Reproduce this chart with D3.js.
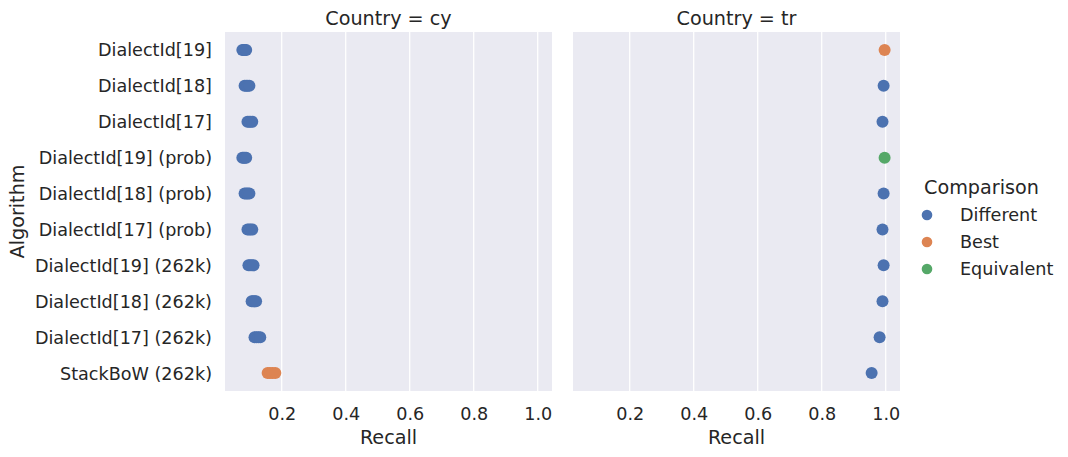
<!DOCTYPE html>
<html><head><meta charset="utf-8">
<script src="https://cdn.jsdelivr.net/npm/d3@7"></script>
<style>body{margin:0;background:#fff}svg{font-family:"DejaVu Sans",sans-serif}</style>
</head><body><svg id="c" width="1068" height="457"></svg>
<script>
const algorithms = ["DialectId[19]","DialectId[18]","DialectId[17]","DialectId[19] (prob)","DialectId[18] (prob)","DialectId[17] (prob)","DialectId[19] (262k)","DialectId[18] (262k)","DialectId[17] (262k)","StackBoW (262k)"];
const countries = ["cy","tr"];
const comparisons = ["Different","Best","Equivalent"];
const colors = ["#4C72B0","#DD8452","#55A868"];
const xTicks = [0.2,0.4,0.6,0.8,1.0];
// cy: several runs per algorithm
const recallCy = [
  [0.077,0.081,0.085,0.089],
  [0.084,0.089,0.094,0.099],
  [0.093,0.098,0.103,0.108],
  [0.077,0.081,0.085,0.089],
  [0.084,0.089,0.094,0.099],
  [0.093,0.098,0.103,0.108],
  [0.096,0.101,0.107,0.112],
  [0.106,0.110,0.115,0.120],
  [0.115,0.121,0.127,0.133],
  [0.156,0.163,0.171,0.180]
];
const comparisonCy = ["Different","Different","Different","Different","Different","Different","Different","Different","Different","Best"];
const recallTr = [0.9966,0.9935,0.990,0.9966,0.9935,0.990,0.9935,0.990,0.981,0.956];
const comparisonTr = ["Best","Different","Different","Equivalent","Different","Different","Different","Different","Different","Different"];

const svg = d3.select("#c");
const color = d3.scaleOrdinal().domain(comparisons).range(colors);
const panels = [
  {country:"cy", left:225, points: recallCy.flatMap((vals,i)=>vals.map(v=>({alg:algorithms[i], v, cmp:comparisonCy[i]})))},
  {country:"tr", left:573, points: recallTr.map((v,i)=>({alg:algorithms[i], v, cmp:comparisonTr[i]}))}
];
const pTop = 32, pBottom = 391, pw = 327;
const y = d3.scalePoint().domain(algorithms).range([pTop,pBottom]).padding(0.5);
const fs = 17.6, fl = 19.2;

panels.forEach((p,pi)=>{
  const x = d3.scaleLinear().domain([0.0228,1.0447]).range([p.left,p.left+pw]);
  const g = svg.append("g");
  g.append("rect").attr("x",p.left).attr("y",pTop).attr("width",pw).attr("height",pBottom-pTop).attr("fill","#EAEAF2");
  g.selectAll("line.grid").data(xTicks).join("line").attr("class","grid")
    .attr("x1",d=>x(d)).attr("x2",d=>x(d)).attr("y1",pTop).attr("y2",pBottom)
    .attr("stroke","#fff").attr("stroke-width",1.25);
  const xa = d3.axisBottom(x).tickValues(xTicks).tickFormat(d3.format(".1f")).tickSize(0).tickPadding(0);
  const ax = g.append("g").attr("transform",`translate(0,${pBottom})`).call(xa);
  ax.select(".domain").remove();
  ax.selectAll("text").attr("font-size",fs).attr("fill","#262626").attr("dy",null).attr("y",29)
    .attr("font-family","DejaVu Sans");
  if(pi===0){
    const ya = d3.axisLeft(y).tickSize(0).tickPadding(13);
    const ay = g.append("g").attr("transform",`translate(${p.left},0)`).call(ya);
    ay.select(".domain").remove();
    ay.selectAll("text").attr("font-size",fs).attr("fill","#262626").attr("font-family","DejaVu Sans").attr("dy","0.34em");
  }
  g.selectAll("circle.pt").data(p.points).join("circle").attr("class","pt")
    .attr("cx",d=>x(d.v)).attr("cy",d=>y(d.alg)).attr("r",6).attr("fill",d=>color(d.cmp));
  g.append("text").attr("x",p.left+pw/2).attr("y",25).attr("text-anchor","middle")
    .attr("font-size",fl).attr("fill","#262626").text(`Country = ${p.country}`);
  g.append("text").attr("x",p.left+pw/2).attr("y",444).attr("text-anchor","middle")
    .attr("font-size",fl).attr("fill","#262626").text("Recall");
});
svg.append("text").attr("transform",`translate(24,${(pTop+pBottom)/2}) rotate(-90)`).attr("text-anchor","middle")
  .attr("font-size",fl).attr("fill","#262626").text("Algorithm");

const lg = svg.append("g");
lg.append("text").attr("x",924).attr("y",194).attr("font-size",fl).attr("fill","#262626").text("Comparison");
comparisons.forEach((c,i)=>{
  const cy = 215 + i*27;
  lg.append("circle").attr("cx",927).attr("cy",cy).attr("r",5.3).attr("fill",color(c));
  lg.append("text").attr("x",960).attr("y",cy+6).attr("font-size",fs).attr("fill","#262626").text(c);
});
</script></body></html>
